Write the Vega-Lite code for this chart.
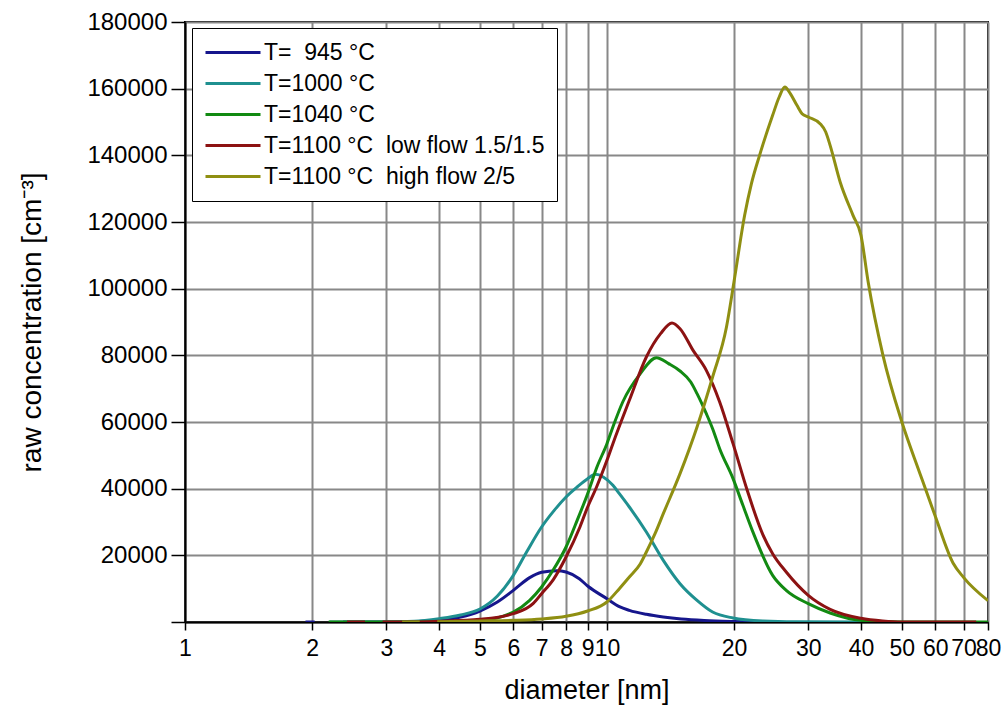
{
  "$schema": "https://vega.github.io/schema/vega-lite/v6.json",
  "autosize": {"type": "none"},
  "width": 803,
  "height": 600,
  "padding": {"left": 185, "top": 22, "right": 14, "bottom": 87},
  "background": "white",
  "config": {
    "font": "Liberation Sans",
    "view": {"stroke": "black", "strokeWidth": 2},
    "axis": {
      "domainColor": "black", "domainWidth": 2,
      "tickColor": "black", "tickWidth": 1.5,
      "gridColor": "#888888", "gridWidth": 2, "gridOpacity": 1,
      "labelColor": "black", "titleColor": "black",
      "labelFontSize": 23, "titleFontSize": 27, "titleFontWeight": "normal"
    }
  },
  "data": {"values": [
    {"s":"T945","g":"a","x":1.93,"y":0},
    {"s":"T945","g":"a","x":2.03,"y":0},
    {"s":"T945","g":"b","x":2.37,"y":0},
    {"s":"T945","g":"b","x":3,"y":0},
    {"s":"T945","g":"b","x":3.5,"y":100},
    {"s":"T945","g":"b","x":4,"y":500},
    {"s":"T945","g":"b","x":4.5,"y":1500},
    {"s":"T945","g":"b","x":5,"y":3300},
    {"s":"T945","g":"b","x":5.5,"y":6000},
    {"s":"T945","g":"b","x":6,"y":9500},
    {"s":"T945","g":"b","x":6.56,"y":13300},
    {"s":"T945","g":"b","x":7,"y":14900},
    {"s":"T945","g":"b","x":7.6,"y":15400},
    {"s":"T945","g":"b","x":8,"y":15000},
    {"s":"T945","g":"b","x":8.6,"y":13000},
    {"s":"T945","g":"b","x":9,"y":10800},
    {"s":"T945","g":"b","x":10,"y":7000},
    {"s":"T945","g":"b","x":10.7,"y":4600},
    {"s":"T945","g":"b","x":11.3,"y":3500},
    {"s":"T945","g":"b","x":12.4,"y":2300},
    {"s":"T945","g":"b","x":13.6,"y":1500},
    {"s":"T945","g":"b","x":15,"y":900},
    {"s":"T945","g":"b","x":17,"y":450},
    {"s":"T945","g":"b","x":20,"y":150},
    {"s":"T945","g":"b","x":23,"y":0},

    {"s":"T1000","g":"a","x":2.2,"y":0},
    {"s":"T1000","g":"a","x":3,"y":0},
    {"s":"T1000","g":"a","x":3.5,"y":200},
    {"s":"T1000","g":"a","x":4,"y":1000},
    {"s":"T1000","g":"a","x":4.5,"y":2100},
    {"s":"T1000","g":"a","x":5,"y":3900},
    {"s":"T1000","g":"a","x":5.5,"y":7800},
    {"s":"T1000","g":"a","x":6,"y":14000},
    {"s":"T1000","g":"a","x":6.45,"y":21000},
    {"s":"T1000","g":"a","x":7,"y":28500},
    {"s":"T1000","g":"a","x":7.5,"y":33500},
    {"s":"T1000","g":"a","x":8,"y":37500},
    {"s":"T1000","g":"a","x":8.5,"y":40500},
    {"s":"T1000","g":"a","x":9,"y":43000},
    {"s":"T1000","g":"a","x":9.4,"y":44300},
    {"s":"T1000","g":"a","x":9.8,"y":43500},
    {"s":"T1000","g":"a","x":10.33,"y":41000},
    {"s":"T1000","g":"a","x":10.7,"y":38500},
    {"s":"T1000","g":"a","x":11.3,"y":34500},
    {"s":"T1000","g":"a","x":12.4,"y":27000},
    {"s":"T1000","g":"a","x":13.6,"y":18500},
    {"s":"T1000","g":"a","x":14.9,"y":11500},
    {"s":"T1000","g":"a","x":16.35,"y":6500},
    {"s":"T1000","g":"a","x":17.8,"y":3000},
    {"s":"T1000","g":"a","x":19.9,"y":1200},
    {"s":"T1000","g":"a","x":23.4,"y":300},
    {"s":"T1000","g":"a","x":28,"y":50},
    {"s":"T1000","g":"a","x":40,"y":0},

    {"s":"T1040","g":"a","x":2.19,"y":0},
    {"s":"T1040","g":"a","x":3,"y":0},
    {"s":"T1040","g":"a","x":4,"y":100},
    {"s":"T1040","g":"a","x":5,"y":500},
    {"s":"T1040","g":"a","x":6,"y":3000},
    {"s":"T1040","g":"a","x":6.56,"y":6500},
    {"s":"T1040","g":"a","x":7,"y":10500},
    {"s":"T1040","g":"a","x":7.45,"y":15500},
    {"s":"T1040","g":"a","x":8,"y":22500},
    {"s":"T1040","g":"a","x":8.5,"y":30500},
    {"s":"T1040","g":"a","x":9,"y":38500},
    {"s":"T1040","g":"a","x":9.47,"y":46500},
    {"s":"T1040","g":"a","x":10,"y":53500},
    {"s":"T1040","g":"a","x":10.33,"y":58500},
    {"s":"T1040","g":"a","x":10.9,"y":66000},
    {"s":"T1040","g":"a","x":12,"y":74500},
    {"s":"T1040","g":"a","x":13.1,"y":79300},
    {"s":"T1040","g":"a","x":14,"y":77500},
    {"s":"T1040","g":"a","x":14.9,"y":75300},
    {"s":"T1040","g":"a","x":15.8,"y":72000},
    {"s":"T1040","g":"a","x":16.35,"y":68500},
    {"s":"T1040","g":"a","x":17.2,"y":62500},
    {"s":"T1040","g":"a","x":17.8,"y":58000},
    {"s":"T1040","g":"a","x":18.5,"y":52000},
    {"s":"T1040","g":"a","x":19.9,"y":43000},
    {"s":"T1040","g":"a","x":21,"y":35000},
    {"s":"T1040","g":"a","x":22.1,"y":27500},
    {"s":"T1040","g":"a","x":24.7,"y":14000},
    {"s":"T1040","g":"a","x":26.6,"y":9500},
    {"s":"T1040","g":"a","x":30,"y":5500},
    {"s":"T1040","g":"a","x":33.8,"y":2700},
    {"s":"T1040","g":"a","x":40,"y":500},
    {"s":"T1040","g":"a","x":50,"y":0},
    {"s":"T1040","g":"a","x":80,"y":0},

    {"s":"T1100low","g":"a","x":2.42,"y":0},
    {"s":"T1100low","g":"a","x":2.67,"y":0},
    {"s":"T1100low","g":"b","x":2.94,"y":0},
    {"s":"T1100low","g":"b","x":3.5,"y":0},
    {"s":"T1100low","g":"b","x":4,"y":200},
    {"s":"T1100low","g":"b","x":5,"y":800},
    {"s":"T1100low","g":"b","x":6,"y":2500},
    {"s":"T1100low","g":"b","x":6.68,"y":5500},
    {"s":"T1100low","g":"b","x":7,"y":8500},
    {"s":"T1100low","g":"b","x":7.47,"y":12800},
    {"s":"T1100low","g":"b","x":8,"y":19500},
    {"s":"T1100low","g":"b","x":8.63,"y":28500},
    {"s":"T1100low","g":"b","x":9,"y":34500},
    {"s":"T1100low","g":"b","x":9.45,"y":40500},
    {"s":"T1100low","g":"b","x":10,"y":48500},
    {"s":"T1100low","g":"b","x":10.33,"y":53500},
    {"s":"T1100low","g":"b","x":11.3,"y":66500},
    {"s":"T1100low","g":"b","x":12.4,"y":79500},
    {"s":"T1100low","g":"b","x":13.4,"y":86500},
    {"s":"T1100low","g":"b","x":14.26,"y":89700},
    {"s":"T1100low","g":"b","x":14.9,"y":88000},
    {"s":"T1100low","g":"b","x":16,"y":81500},
    {"s":"T1100low","g":"b","x":17.2,"y":75500},
    {"s":"T1100low","g":"b","x":18.5,"y":66000},
    {"s":"T1100low","g":"b","x":19.9,"y":53500},
    {"s":"T1100low","g":"b","x":21.5,"y":39500},
    {"s":"T1100low","g":"b","x":23.4,"y":26300},
    {"s":"T1100low","g":"b","x":24.7,"y":20500},
    {"s":"T1100low","g":"b","x":26.6,"y":15000},
    {"s":"T1100low","g":"b","x":30,"y":8000},
    {"s":"T1100low","g":"b","x":33.8,"y":3800},
    {"s":"T1100low","g":"b","x":40,"y":1100},
    {"s":"T1100low","g":"b","x":45,"y":300},
    {"s":"T1100low","g":"b","x":50,"y":0},
    {"s":"T1100low","g":"b","x":75,"y":0},

    {"s":"T1100high","g":"a","x":3.27,"y":0},
    {"s":"T1100high","g":"a","x":3.6,"y":0},
    {"s":"T1100high","g":"b","x":3.96,"y":100},
    {"s":"T1100high","g":"b","x":5,"y":300},
    {"s":"T1100high","g":"b","x":6,"y":500},
    {"s":"T1100high","g":"b","x":7,"y":900},
    {"s":"T1100high","g":"b","x":8,"y":1700},
    {"s":"T1100high","g":"b","x":9,"y":3300},
    {"s":"T1100high","g":"b","x":10,"y":6000},
    {"s":"T1100high","g":"b","x":10.7,"y":10000},
    {"s":"T1100high","g":"b","x":11.3,"y":13500},
    {"s":"T1100high","g":"b","x":12,"y":17500},
    {"s":"T1100high","g":"b","x":12.4,"y":21000},
    {"s":"T1100high","g":"b","x":13,"y":26500},
    {"s":"T1100high","g":"b","x":13.6,"y":32500},
    {"s":"T1100high","g":"b","x":14.9,"y":44500},
    {"s":"T1100high","g":"b","x":16.35,"y":58500},
    {"s":"T1100high","g":"b","x":17.8,"y":73500},
    {"s":"T1100high","g":"b","x":19.2,"y":88500},
    {"s":"T1100high","g":"b","x":20,"y":102000},
    {"s":"T1100high","g":"b","x":21.2,"y":122000},
    {"s":"T1100high","g":"b","x":22,"y":131500},
    {"s":"T1100high","g":"b","x":23,"y":140000},
    {"s":"T1100high","g":"b","x":24.7,"y":152000},
    {"s":"T1100high","g":"b","x":25.6,"y":157500},
    {"s":"T1100high","g":"b","x":26.4,"y":160500},
    {"s":"T1100high","g":"b","x":27.2,"y":158500},
    {"s":"T1100high","g":"b","x":28.2,"y":155000},
    {"s":"T1100high","g":"b","x":29,"y":152500},
    {"s":"T1100high","g":"b","x":30,"y":151500},
    {"s":"T1100high","g":"b","x":32,"y":149500},
    {"s":"T1100high","g":"b","x":33,"y":147000},
    {"s":"T1100high","g":"b","x":33.8,"y":143000},
    {"s":"T1100high","g":"b","x":35.7,"y":132000},
    {"s":"T1100high","g":"b","x":38.3,"y":122000},
    {"s":"T1100high","g":"b","x":40,"y":116000},
    {"s":"T1100high","g":"b","x":41.6,"y":102000},
    {"s":"T1100high","g":"b","x":45.1,"y":80000},
    {"s":"T1100high","g":"b","x":50,"y":60000},
    {"s":"T1100high","g":"b","x":55.2,"y":44500},
    {"s":"T1100high","g":"b","x":60,"y":31700},
    {"s":"T1100high","g":"b","x":66.1,"y":17700},
    {"s":"T1100high","g":"b","x":70,"y":13400},
    {"s":"T1100high","g":"b","x":80,"y":6400}
  ]},
  "mark": {"type": "line", "strokeWidth": 3, "interpolate": "monotone", "clip": true},
  "encoding": {
    "x": {
      "field": "x", "type": "quantitative",
      "scale": {"type": "log", "domain": [1, 80], "nice": false},
      "axis": {
        "title": "diameter [nm]",
        "values": [1,2,3,4,5,6,7,8,9,10,20,30,40,50,60,70,80],
        "format": "d", "labelFlush": false, "labelOverlap": false,
        "tickSize": 8, "labelPadding": 7, "titlePadding": 17
      }
    },
    "y": {
      "field": "y", "type": "quantitative",
      "scale": {"domain": [0, 180000], "nice": false},
      "axis": {
        "title": "raw concentration [cm\u207b\u00b3]",
        "titleFontSize": 28, "labelFontSize": 24,
        "values": [0,20000,40000,60000,80000,100000,120000,140000,160000,180000],
        "format": "d",
        "labelExpr": "datum.value == 0 ? '' : datum.label",
        "tickSize": 14, "labelPadding": 4, "titlePadding": 40
      }
    },
    "color": {
      "field": "s", "type": "nominal",
      "scale": {
        "domain": ["T945", "T1000", "T1040", "T1100low", "T1100high"],
        "range": ["#16168c", "#1f9090", "#128a12", "#8c1212", "#8f8f12"]
      },
      "legend": {
        "title": null, "orient": "none", "legendX": 7, "legendY": 6,
        "strokeColor": "black", "fillColor": "white",
        "padding": 12, "labelFontSize": 23, "labelColor": "black",
        "labelLimit": 400,
        "labelExpr": "datum.value == 'T945' ? 'T=\u00a0\u00a0945 °C' : datum.value == 'T1000' ? 'T=1000 °C' : datum.value == 'T1040' ? 'T=1040 °C' : datum.value == 'T1100low' ? 'T=1100 °C\u00a0\u00a0low flow 1.5/1.5' : 'T=1100 °C\u00a0\u00a0high flow 2/5'",
        "symbolType": "M-1,0H4", "symbolSize": 484, "symbolStrokeWidth": 3,
        "labelOffset": 35, "rowPadding": 6
      }
    },
    "detail": {"field": "g", "type": "nominal"},
    "order": {"field": "x", "type": "quantitative"}
  }
}
